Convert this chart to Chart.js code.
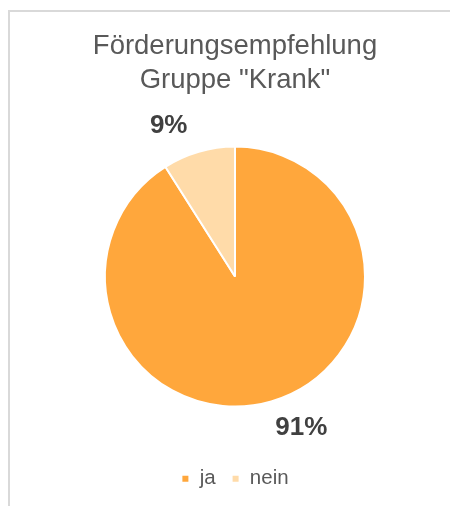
<!DOCTYPE html>
<html>
<head>
<meta charset="utf-8">
<script src="https://cdn.jsdelivr.net/npm/chart.js@4/dist/chart.umd.min.js"></script>
<style>
  html, body { margin: 0; padding: 0; background: #fff; }
  #frame {
    position: absolute; left: 8px; top: 10px; width: 520px; height: 560px;
    border-left: 2px solid #d9d9d9; border-top: 2px solid #d9d9d9;
  }
  #wrap { position: absolute; left: 0; top: 0; width: 450px; height: 506px; }
</style>
</head>
<body>
<div id="frame"></div>
<div id="wrap"><canvas id="pie"></canvas></div>
<script>
// chart data
const categories = ['ja', 'nein'];
const shares = [91, 9];
const titleLines = ['Förderungsempfehlung', 'Gruppe "Krank"'];
const sliceColors = ['#FFA73C', '#FFDBA9'];

/**
 * PERCENT LABELS OUTSIDE THE SLICES
 */
const outsideLabels = {
    id: 'outsideLabels',
    afterDatasetsDraw(chart) {
        const ctx = chart.ctx;
        const meta = chart.getDatasetMeta(0);
        const total = shares.reduce((a, b) => a + b, 0);
        ctx.save();
        ctx.font = 'bold 26px "Liberation Sans", Arial, sans-serif';
        ctx.fillStyle = '#404040';
        ctx.textAlign = 'center';
        ctx.textBaseline = 'middle';
        meta.data.forEach((arc, i) => {
            const p = arc.getProps(['x', 'y', 'startAngle', 'endAngle', 'outerRadius'], true);
            const mid = (p.startAngle + p.endAngle) / 2 - 7.5 * Math.PI / 180;
            const r = p.outerRadius + 35;
            const pct = Math.round(shares[i] / total * 100) + '%';
            ctx.fillText(pct, p.x + Math.cos(mid) * r, p.y + Math.sin(mid) * r);
        });
        ctx.restore();
    }
};

new Chart(document.getElementById('pie'), {
    type: 'pie',
    data: {
        labels: categories,
        datasets: [{
            data: shares,
            backgroundColor: sliceColors,
            borderColor: '#ffffff',
            borderWidth: 2,
            hoverOffset: 0,
            radius: 130
        }]
    },
    options: {
        responsive: true,
        maintainAspectRatio: false,
        animation: false,
        layout: {
            padding: { left: 20, right: 0, top: 0, bottom: 7 }
        },
        plugins: {
            title: {
                display: true,
                text: titleLines,
                color: '#595959',
                font: { family: '"Liberation Sans", Arial, sans-serif', size: 27.5, weight: 'normal', lineHeight: 1.23 },
                padding: { top: 30, bottom: 3 }
            },
            legend: {
                position: 'bottom',
                labels: {
                    color: '#595959',
                    boxWidth: 8,
                    boxHeight: 8,
                    padding: 16,
                    font: { family: '"Liberation Sans", Arial, sans-serif', size: 20.5 }
                }
            },
            tooltip: { enabled: false }
        }
    },
    plugins: [outsideLabels]
});
</script>
</body>
</html>
